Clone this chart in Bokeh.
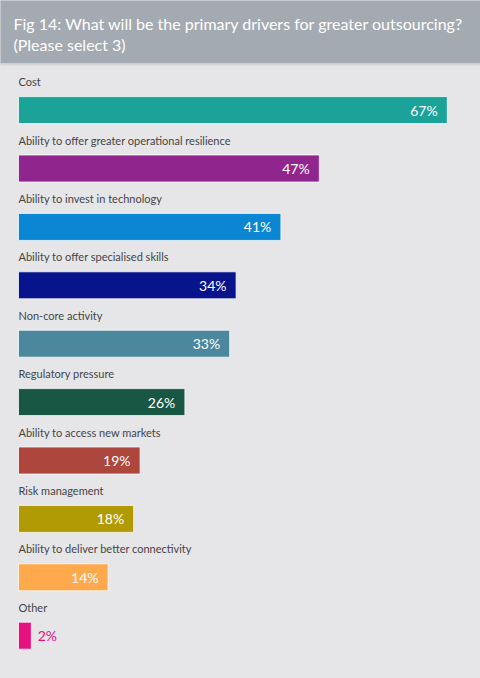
from jinja2 import Template
from bokeh.plotting import figure
from bokeh.models import Range1d, BoxAnnotation, ColumnDataSource, Label
from bokeh.core.properties import value
from bokeh.embed import file_html
from bokeh.resources import INLINE

# Survey responses: primary drivers for greater outsourcing (% of respondents)
categories = [
    "Cost",
    "Ability to offer greater operational resilience",
    "Ability to invest in technology",
    "Ability to offer specialised skills",
    "Non-core activity",
    "Regulatory pressure",
    "Ability to access new markets",
    "Risk management",
    "Ability to deliver better connectivity",
    "Other",
]
shares = [67, 47, 41, 34, 33, 26, 19, 18, 14, 2]
colors = [
    "#1ba39a", "#90268d", "#0a86d2", "#07148c", "#4b879d",
    "#175743", "#ad463c", "#b19b05", "#ffa94d", "#e7107f",
]
title_lines = [
    "Fig 14: What will be the primary drivers for greater outsourcing?",
    "(Please select 3)",
]

W, H = 480, 678
PX_PER_UNIT = 6.4          # horizontal pixels per percentage point
LEFT_PAD = 18              # left margin of bars and labels
FIRST_ROW = 109.6          # centre of first bar (px from top)
ROW_STEP = 58.4            # vertical distance between rows
BAR_H = 27
BG = "#e6e6e9"
FONT = "Lato"

x0 = -LEFT_PAD / PX_PER_UNIT
x1 = (W - LEFT_PAD) / PX_PER_UNIT

p = figure(width=W, height=H, output_backend="svg", toolbar_location=None,
           x_range=Range1d(x0, x1), y_range=Range1d(H, 0),
           min_border=0, min_border_left=0, min_border_right=0,
           min_border_top=0, min_border_bottom=0)
p.axis.visible = False
p.grid.visible = False
p.outline_line_color = None
p.background_fill_color = BG
p.border_fill_color = BG

# full-page backdrop and header band, extended past the frame edges
p.add_layout(BoxAnnotation(top=-10, bottom=H + 10, left=x0 - 5, right=x1 + 5,
                           fill_color=BG, fill_alpha=1, line_color=None,
                           level="underlay"))
p.add_layout(BoxAnnotation(top=-10, bottom=63, left=x0 - 5, right=x1 + 5,
                           fill_color="#a4aab1", fill_alpha=1,
                           line_color=None, level="underlay"))
p.add_layout(BoxAnnotation(top=63, bottom=65, left=x0 - 5, right=x1 + 5,
                           fill_color="#d3d6d9", fill_alpha=1,
                           line_color=None, level="underlay"))
for i, line in enumerate(title_lines):
    p.add_layout(Label(x=x0 + 13 / PX_PER_UNIT, y=23 + i * 21, text=line,
                       text_color="white", text_font=FONT,
                       text_font_size="16px", text_baseline="middle"))

rows = [FIRST_ROW + i * ROW_STEP for i in range(len(categories))]
fits = [s * PX_PER_UNIT >= 36 for s in shares]
src = ColumnDataSource(dict(
    cat=categories,
    share=shares,
    color=colors,
    y=rows,
    label_y=[r - 28.5 for r in rows],
    val_text=[f"{s}%" for s in shares],
    val_x=[s - 1.5 if f else s + 1.0 for s, f in zip(shares, fits)],
    val_align=["right" if f else "left" for f in fits],
    val_color=["white" if f else c for f, c in zip(fits, colors)],
))

p.hbar(y="y", left=0, right="share", height=BAR_H, fill_color="color",
       line_color="white", line_alpha=0.75, line_width=1, source=src)

p.text(x=0, y="label_y", text="cat", text_color="#444446",
       text_font=value(FONT), text_font_size="11px",
       text_baseline="middle", text_align="left", source=src)

p.text(x="val_x", y="y", text="val_text", text_color="val_color",
       text_font=value(FONT), text_font_size="14px",
       text_baseline="middle", text_align="val_align", source=src)

page = Template(
    "{% extends base %}"
    "{% block postamble %}<style>html, body { margin: 0; padding: 0; "
    "background: " + BG + "; overflow: hidden; }</style>{% endblock %}"
)
open("out.html", "w").write(file_html(p, INLINE, template=page))
